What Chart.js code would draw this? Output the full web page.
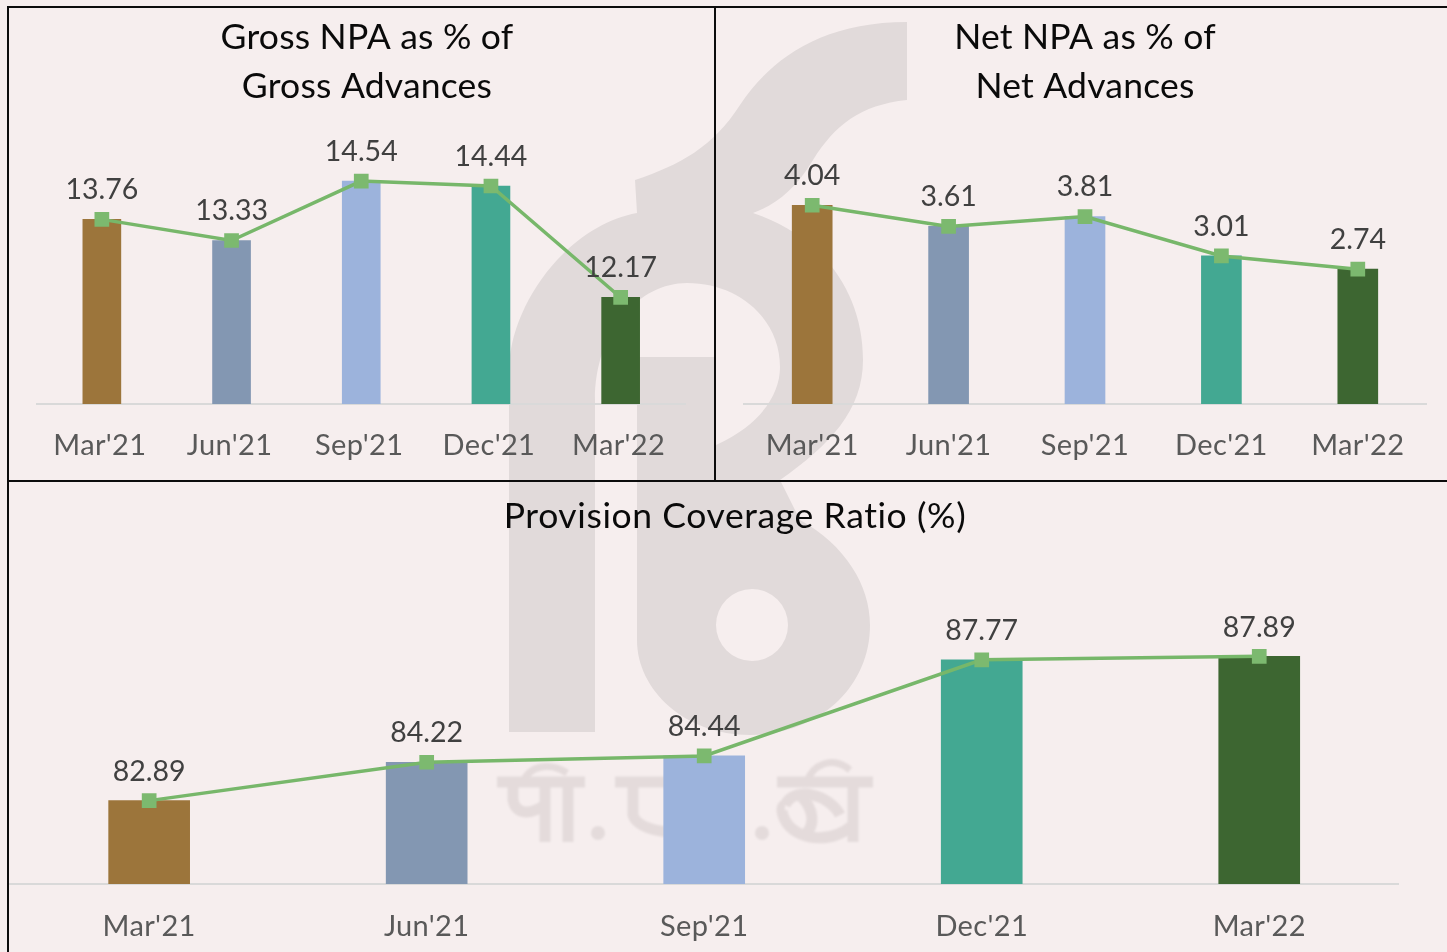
<!DOCTYPE html>
<html><head><meta charset="utf-8">
<script src="https://cdn.jsdelivr.net/npm/chart.js@4"></script>
<style>
html,body{margin:0;padding:0;width:1447px;height:952px;overflow:hidden;background:#f6eeee}
.c{position:absolute}
.l{position:absolute;background:#0c0c0c}
svg{position:absolute;left:0;top:0}
</style></head><body>
<svg width="1447" height="952" viewBox="0 0 1447 952">
<defs><filter id="bl"><feGaussianBlur stdDeviation="1.2"/></filter></defs>
<g fill="#e1dada">
<path fill-rule="evenodd" d="M509,732 L509,367 C512,300 570,225 637,213 L635,180 C680,165 713,147 740,105 C770,60 820,22 907,22 L907,100 C860,105 835,125 813,160 C795,190 775,205 753,213 C820,235 863,290 863,360 C863,410 830,445 780,480 L800,520 C845,545 870,585 870,625 C870,690 815,735 750,735 C685,735 637,690 637,640 L637,357 L714,357 L716,445 C760,425 780,395 780,367 C780,320 740,283 687,283 C640,283 595,330 595,400 L595,732 Z M752,589 A36,36 0 1,0 752,661 A36,36 0 1,0 752,589 Z"/>
</g>
<g filter="url(#bl)">
<g fill="none" stroke="#e4dbdb" stroke-width="11">
<path d="M497,782 L585,782 M568,782 L568,842 M545,782 L545,842 M513,782 L513,800 C516,815 530,815 545,805"/>
<path d="M523,782 C530,765 550,762 567,773" stroke-width="7"/>
<path d="M615,782 L668,782 M633,782 L633,815 C636,825 650,830 668,832"/>
<path d="M777,782 L873,782 M853,782 L853,842 M785,805 C795,785 830,795 840,815 M853,825 C830,845 795,840 785,820 C780,810 782,805 785,805 M800,795 C815,810 815,825 805,835"/>
<path d="M807,782 C812,765 832,755 850,770" stroke-width="7"/>
</g>
<g fill="#e4dbdb"><circle cx="598" cy="833" r="7"/><circle cx="762" cy="833" r="7"/></g>
</g>
</svg>
<canvas id="a" class="c" style="left:0;top:0" width="734" height="480"></canvas>
<canvas id="b" class="c" style="left:723px;top:0" width="724" height="480"></canvas>
<canvas id="d" class="c" style="left:0;top:480px" width="1470" height="472"></canvas>
<div class="l" style="left:7px;top:6px;width:1440px;height:2px"></div>
<div class="l" style="left:7px;top:6px;width:2px;height:946px"></div>
<div class="l" style="left:714px;top:6px;width:2px;height:474px"></div>
<div class="l" style="left:7px;top:480px;width:1440px;height:2px"></div>
<script>
const categories = ["Mar'21","Jun'21","Sep'21","Dec'21","Mar'22"];
const grossNpa = [13.76,13.33,14.54,14.44,12.17];
const netNpa = [4.04,3.61,3.81,3.01,2.74];
const pcr = [82.89,84.22,84.44,87.77,87.89];
const grossTitle = ['Gross NPA as % of','Gross Advances'];
const netTitle = ['Net NPA as % of','Net Advances'];
const pcrTitle = ['Provision Coverage Ratio (%)'];
const barColors = ['#9c753b','#8397b2','#9cb3dc','#43a892','#3d6631'];
const FONT = 'Lato, Carlito, sans-serif';

const textPlugin = {
  id:'textPlugin',
  beforeDraw(chart){ chart.ctx.letterSpacing = '0.35px'; },
  afterDatasetsDraw(chart, args, opts){
    const ctx = chart.ctx;
    const meta = chart.getDatasetMeta(1);
    const data = chart.data.datasets[1].data;
    ctx.save();
    ctx.letterSpacing = '0px';
    ctx.font = '28.5px '+FONT;
    ctx.fillStyle = '#404040';
    ctx.textAlign = 'center';
    ctx.textBaseline = 'middle';
    meta.data.forEach((p,i)=>ctx.fillText(data[i].toFixed(2), p.x, p.y-opts.lift));
    ctx.letterSpacing = opts.ls;
    ctx.font = '35.5px '+FONT;
    ctx.fillStyle = '#0a0a0a';
    opts.lines.forEach((t,i)=>ctx.fillText(t, chart.width/2, opts.y+i*49));
    ctx.restore();
  }
};

function make(id, title, values, min, max, o){
  new Chart(document.getElementById(id), {
    data:{labels:categories, datasets:[
      {type:'bar', data:values, backgroundColor:barColors, barThickness:o.bar, order:2},
      {type:'line', data:values, borderColor:'#77b76a', borderWidth:3.5, tension:0,
       pointStyle:'rect', pointRadius:10.4, pointBackgroundColor:'#7cb96f', pointBorderWidth:0, order:1}
    ]},
    options:{
      responsive:false, animation:false,
      layout:{padding:{left:o.left,right:o.right,top:o.top,bottom:0}},
      plugins:{legend:{display:false}, tooltip:{enabled:false}, title:{display:false},
        textPlugin:{lines:title,y:o.ty,ls:o.ls,lift:o.lift}},
      scales:{
        y:{display:false,min:min,max:max},
        x:{grid:{display:false,drawTicks:false},
           border:{display:true,color:'#d9d9d9',width:2},
           ticks:{color:'#595959',padding:o.tp,labelOffset:o.lo||0,maxRotation:0,autoSkip:false,font:{family:FONT,size:29}},
           afterFit(s){s.height=o.xh;}}
      }
    },
    plugins:[textPlugin]
  });
}
make('a',grossTitle,grossNpa,10,15,{bar:38,left:37,right:48.5,top:158.5,ty:37.5,xh:76,tp:24,lo:-2,ls:'0.2px',lift:29.5});
make('b',netTitle,netNpa,0,5,{bar:40,left:21,right:21,top:158,ty:37.5,xh:76,tp:24,ls:'0.2px',lift:29.5});
make('d',pcrTitle,pcr,80,90,{bar:81,left:9,right:72,top:115.5,ty:36.5,xh:68,tp:25,ls:'0.6px',lift:29});
</script>
</body></html>
